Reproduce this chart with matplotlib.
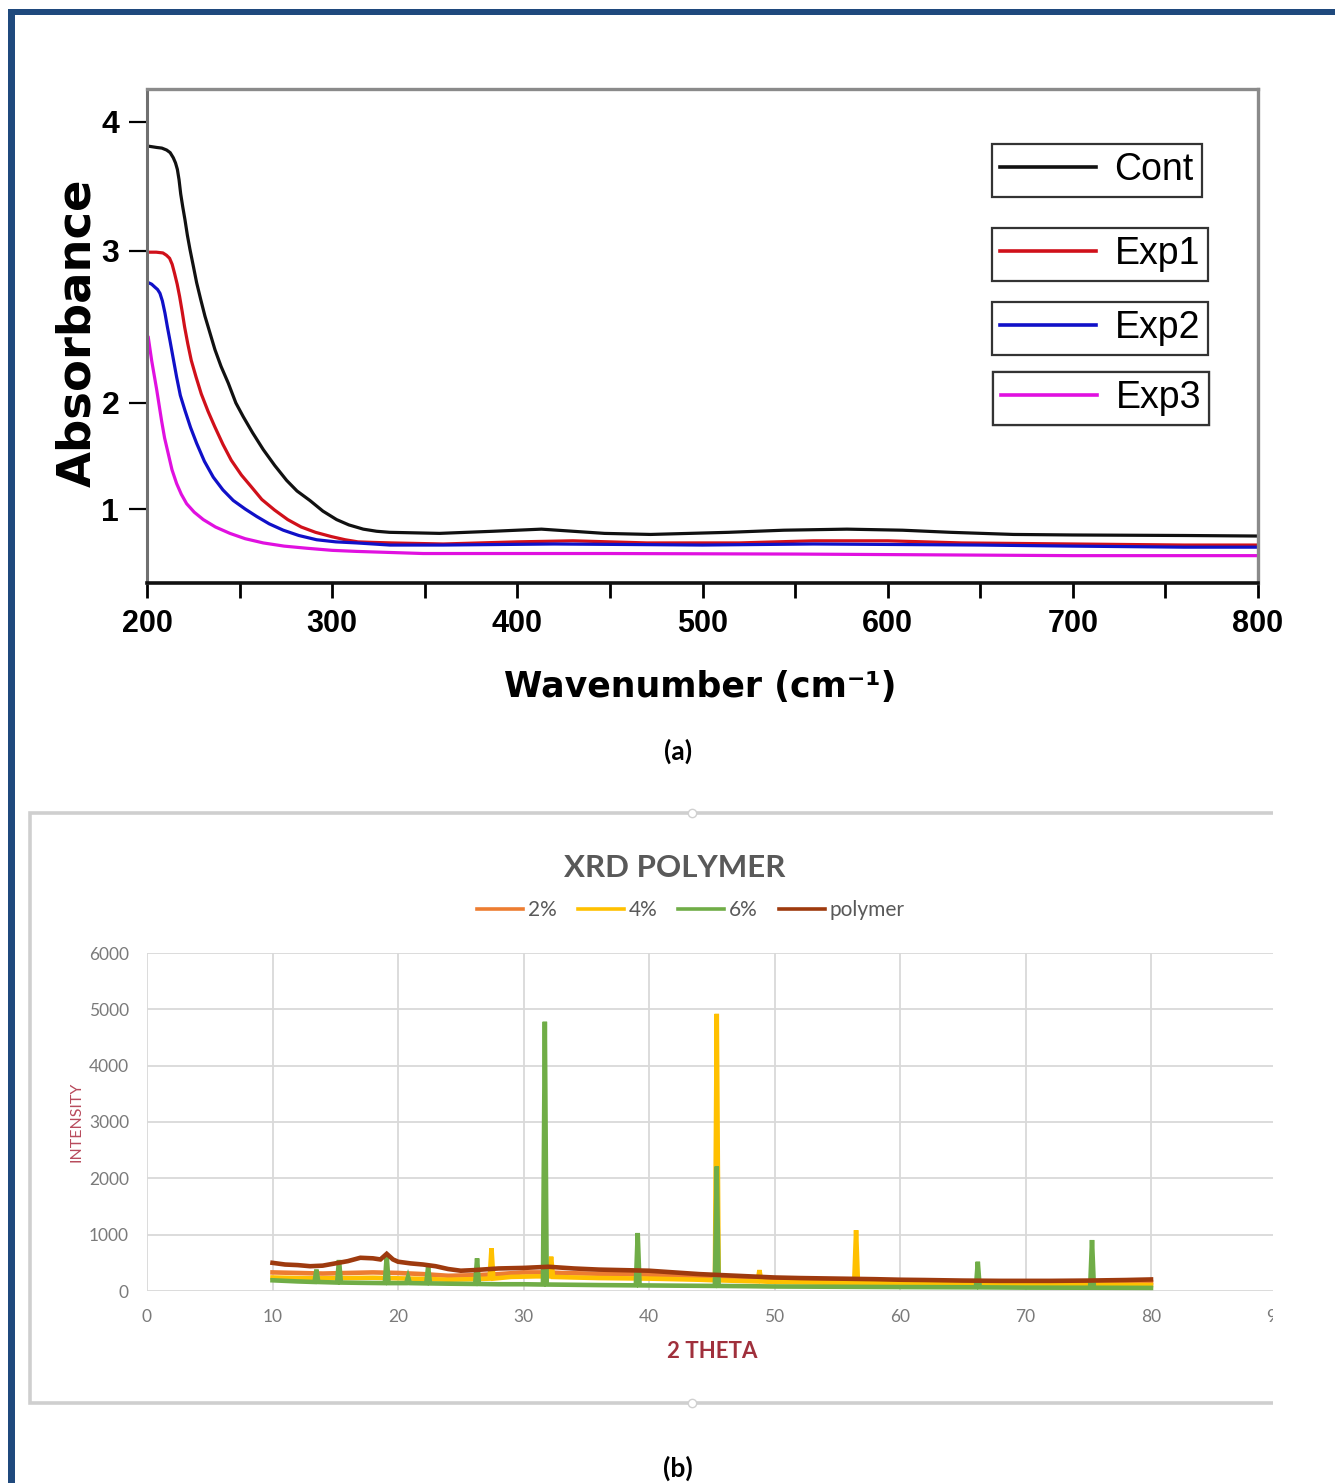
import numpy as np
import matplotlib
matplotlib.use("Agg")
import matplotlib.pyplot as plt
from matplotlib.patches import Rectangle
from matplotlib.lines import Line2D

# ---------------- (a) UV absorbance data ----------------
uv_labels = ["Cont", "Exp1", "Exp2", "Exp3"]
uv_colors = ["#111111", "#d0101a", "#1010c8", "#e010e0"]

cont_wn = [200.7, 205.2, 208, 210.6, 212.5, 214.2, 215.4, 216.4, 217.3, 218.2, 219.3,
           220.5, 221.8, 223.2, 225, 226.8, 229, 231.3, 234, 236.7, 240, 243.9, 248,
           252, 257, 262.8, 269, 275.4, 281, 288, 295, 302.4, 309, 316.8, 324, 331,
           358, 387, 413, 447, 472, 514, 544, 578, 608, 634, 668, 700, 761, 800]
cont_abs = [3.81, 3.80, 3.795, 3.78, 3.76, 3.72, 3.68, 3.63, 3.55, 3.44, 3.34,
            3.24, 3.12, 3.01, 2.90, 2.79, 2.68, 2.57, 2.46, 2.35, 2.24, 2.13, 2.00,
            1.87, 1.72, 1.56, 1.41, 1.27, 1.17, 1.08, 0.98, 0.90, 0.85, 0.81, 0.79, 0.78,
            0.77, 0.79, 0.81, 0.77, 0.76, 0.78, 0.80, 0.81, 0.80, 0.78, 0.76, 0.755, 0.75, 0.745]

exp1_wn = [200.7, 205, 208.6, 210.5, 212.2, 213.6, 214.9, 216.3, 217.6, 219, 220.3,
           222, 223.9, 226.5, 229.3, 233, 236.5, 241, 245.5, 251, 256.3, 262, 268.9,
           276, 283.3, 291, 299.5, 307, 313.9, 322, 331.9, 360, 400, 430, 470, 520,
           560, 600, 640, 700, 760, 800]
exp1_abs = [2.99, 2.99, 2.985, 2.97, 2.95, 2.91, 2.85, 2.78, 2.70, 2.60, 2.50,
            2.39, 2.28, 2.17, 2.06, 1.92, 1.78, 1.61, 1.46, 1.32, 1.21, 1.09, 0.99,
            0.90, 0.83, 0.78, 0.74, 0.71, 0.69, 0.685, 0.68, 0.67, 0.69, 0.70, 0.68, 0.68,
            0.70, 0.70, 0.68, 0.67, 0.66, 0.66]

exp2_wn = [200.7, 202.5, 204.3, 205.7, 207, 208.3, 209.7, 211, 212.4, 214.2, 216, 218,
           220.5, 223.5, 226.8, 231, 235.8, 241, 246.6, 253, 259.2, 266, 273.6, 282,
           291.6, 302, 313.2, 331.2, 360, 420, 500, 560, 650, 700, 760, 800]
exp2_abs = [2.79, 2.78, 2.76, 2.745, 2.72, 2.67, 2.59, 2.50, 2.41, 2.29, 2.17, 2.05,
            1.93, 1.77, 1.62, 1.45, 1.30, 1.18, 1.08, 1.00, 0.93, 0.86, 0.80, 0.75,
            0.71, 0.69, 0.68, 0.66, 0.66, 0.67, 0.66, 0.67, 0.66, 0.65, 0.64, 0.64]

exp3_wn = [200.7, 202.5, 205.2, 207.9, 209.5, 211.5, 213.5, 216.0, 218.5, 221.4, 225.5,
           230.4, 237, 244.8, 253, 262.8, 274, 286.2, 300, 313.2, 349.2, 450, 550,
           650, 700, 800]
exp3_abs = [2.43, 2.28, 2.09, 1.83, 1.67, 1.52, 1.37, 1.24, 1.14, 1.05, 0.97,
            0.90, 0.83, 0.77, 0.72, 0.68, 0.65, 0.63, 0.61, 0.60, 0.58, 0.58, 0.575,
            0.565, 0.56, 0.56]

uv_x_ticks = [200, 300, 400, 500, 600, 700, 800]
uv_y_ticks = [1, 2, 3, 4]

# ---------------- (b) XRD data ----------------
xrd_labels = ["2%", "4%", "6%", "polymer"]
xrd_colors = ["#ED7D31", "#FFC000", "#70AD47", "#9E3A0E"]

p2_theta = [10, 12, 14, 16, 18, 20, 22, 24, 26, 28, 30, 31.55, 31.7, 31.85, 33, 35,
            38, 40, 42, 44, 45.25, 45.4, 45.55, 47, 50, 55, 60, 65, 70, 75, 80]
p2_int = [330, 320, 310, 320, 330, 320, 300, 270, 280, 300, 330, 330, 520, 330, 320, 310,
          300, 290, 270, 260, 250, 450, 250, 230, 200, 180, 170, 160, 155, 150, 150]

p4_theta = [10, 12, 14, 16, 18, 20, 22, 24, 26, 27.3, 27.45, 27.6, 29, 31, 32.05, 32.2,
            32.35, 34, 36, 38, 40, 42, 44, 45.25, 45.4, 45.55, 47, 48.65, 48.8, 48.95,
            50, 53, 56.35, 56.5, 56.65, 60, 65, 70, 75, 80]
p4_int = [240, 230, 225, 230, 235, 225, 215, 200, 210, 220, 760, 220, 250, 260, 260, 610,
          250, 240, 230, 225, 220, 210, 200, 190, 4920, 190, 180, 170, 370, 170,
          160, 150, 140, 1080, 140, 135, 125, 115, 110, 105]

p6_theta = [10, 12, 13.35, 13.5, 13.65, 15.15, 15.3, 15.45, 17, 18.95, 19.1, 19.25,
            20.65, 20.8, 20.95, 22.25, 22.4, 22.55, 24, 26.15, 26.3, 26.45, 28, 30,
            31.55, 31.7, 31.85, 34, 36, 38.95, 39.1, 39.25, 42, 45.25, 45.4, 45.55,
            48, 50, 55, 60, 66.05, 66.2, 66.35, 70, 75.15, 75.3, 75.45, 80]
p6_int = [190, 170, 160, 380, 160, 150, 550, 150, 145, 140, 620, 140,
          140, 250, 140, 135, 430, 135, 130, 125, 580, 125, 120, 120,
          115, 4780, 115, 110, 105, 100, 1030, 100, 95, 90, 2210, 90,
          85, 80, 75, 70, 65, 520, 65, 60, 58, 905, 58, 55]

poly_theta = [10, 11, 12, 13, 14, 15, 16, 17, 18, 18.6, 19.1, 19.6, 20, 21, 22, 23, 24,
              25, 26, 28, 30, 32, 34, 36, 38, 40, 42, 44, 46, 48, 50, 52, 55, 58, 60,
              62, 65, 68, 70, 72, 75, 78, 80]
poly_int = [500, 470, 460, 440, 450, 490, 530, 590, 580, 560, 660, 560, 520, 490, 470, 440,
            390, 360, 370, 400, 410, 430, 400, 380, 370, 360, 330, 300, 280, 260, 240, 230,
            220, 210, 200, 195, 185, 180, 180, 180, 185, 195, 205]

xrd_x_ticks = list(range(0, 100, 10))
xrd_y_ticks = list(range(0, 7000, 1000))

# ---------------- figure helpers ----------------
W, H = 1335, 1483
fig = plt.figure(figsize=(W / 100, H / 100), dpi=100)
fig.patch.set_facecolor("white")


def fx(px):
    return px / W


def fy(py):
    return 1 - py / H


# page border
border = "#1F497D"
fig.add_artist(Rectangle((fx(8), 0), fx(7), fy(9), transform=fig.transFigure,
                         facecolor=border, edgecolor="none", zorder=20))
fig.add_artist(Rectangle((fx(8), fy(15)), 1 - fx(8), fy(9) - fy(15),
                         transform=fig.transFigure, facecolor=border,
                         edgecolor="none", zorder=20))

# ---------------- panel (a) ----------------
ax1_l, ax1_r, ax1_t, ax1_b = 147, 1258, 89, 583
ax1 = fig.add_axes([fx(ax1_l), fy(ax1_b), (ax1_r - ax1_l) / W, (ax1_b - ax1_t) / H])

# uneven absorbance gauge of the original plot frame
gauge_levels = [0, 1, 2, 3, 4, 5]
gauge_heights = [0, 106, 212, 364.3, 493.3, 622.3]
ax1.set_yscale("function", functions=(lambda v: np.interp(v, gauge_levels, gauge_heights),
                                      lambda u: np.interp(u, gauge_heights, gauge_levels)))

uv_series = [(cont_wn, cont_abs), (exp1_wn, exp1_abs), (exp2_wn, exp2_abs), (exp3_wn, exp3_abs)]
uv_lines = []
for (wn, ab), col in zip(uv_series, uv_colors):
    ln, = ax1.plot(wn, ab, color=col, lw=2.3, solid_joinstyle="round")
    uv_lines.append(ln)

ax1.set_xlim(200, 800)
ax1.set_ylim(0.302, 4.253)
ax1.set_xticks(uv_x_ticks, [str(t) for t in uv_x_ticks], fontsize=22,
               fontweight="bold", family="Liberation Sans")
ax1.set_xticks(np.arange(250, 800, 100), minor=True)
ax1.set_yticks(uv_y_ticks, [str(t) for t in uv_y_ticks], fontsize=23,
               fontweight="bold", family="Liberation Sans")
ax1.yaxis.set_minor_locator(matplotlib.ticker.NullLocator())
ax1.tick_params(axis="x", which="both", direction="out", length=11, width=2,
                colors="black", pad=8, top=False)
ax1.tick_params(axis="y", which="both", direction="out", length=13, width=1.6,
                colors="black", pad=7, right=False)
ax1.spines["bottom"].set_color("#111111")
ax1.spines["bottom"].set_linewidth(2.6)
ax1.spines["left"].set_color("#707070")
ax1.spines["left"].set_linewidth(2.2)
for s in ("top", "right"):
    ax1.spines[s].set_color("#8a8a8a")
    ax1.spines[s].set_linewidth(2.4)

ax1.set_xlabel("Wavenumber (cm\u207b\u00b9)", fontsize=25, fontweight="bold",
               family="DejaVu Sans")
ax1.xaxis.set_label_coords((700 - ax1_l) / (ax1_r - ax1_l), (ax1_b - 670) / (ax1_b - ax1_t))
ax1.set_ylabel("Absorbance", fontsize=33.5, fontweight="bold", family="DejaVu Sans")
ax1.yaxis.set_label_coords((100 - ax1_l) / (ax1_r - ax1_l), (ax1_b - 333) / (ax1_b - ax1_t))

# one framed legend box per series
legend_corners = [(992, 144), (992, 228), (992, 302), (993, 372)]
for ln, lab, (cx, cy) in zip(uv_lines, uv_labels, legend_corners):
    leg = ax1.legend([ln], [lab], loc="upper left",
                     bbox_to_anchor=((cx - ax1_l) / (ax1_r - ax1_l), (ax1_b - cy) / (ax1_b - ax1_t)),
                     borderaxespad=0, frameon=True, fancybox=False, edgecolor="#333333",
                     framealpha=1, prop=dict(family="Liberation Sans", size=27),
                     handlelength=2.55, handletextpad=0.5, borderpad=0.22)
    leg.get_frame().set_linewidth(1.6)
    for h in leg.legend_handles:
        h.set_linewidth(2.6)
    ax1.add_artist(leg)

fig.text(fx(678), fy(751), "(a)", ha="center", va="center", fontsize=19,
         fontweight="bold", family="Lato")

# ---------------- panel (b) ----------------
# chart area frame
fig.add_artist(Rectangle((fx(30), fy(1403)), fx(1290) - fx(30), fy(813) - fy(1403),
                         transform=fig.transFigure, fill=False, edgecolor="#cfcfcf",
                         lw=2.6, zorder=1))
for hy in (813, 1403):
    fig.add_artist(Line2D([fx(692)], [fy(hy)], marker="o", markersize=6,
                          markerfacecolor="white", markeredgecolor="#d0d0d0",
                          transform=fig.transFigure, zorder=3))

ax2_l, ax2_r, ax2_t, ax2_b = 147, 1276.5, 953, 1291
ax2 = fig.add_axes([fx(ax2_l), fy(ax2_b), (ax2_r - ax2_l) / W, (ax2_b - ax2_t) / H])
ax2.set_zorder(2)

xrd_series = [(p2_theta, p2_int), (p4_theta, p4_int), (p6_theta, p6_int), (poly_theta, poly_int)]
xrd_lines = []
for (th, it), col in zip(xrd_series, xrd_colors):
    ln, = ax2.plot(th, it, color=col, lw=3.3, solid_joinstyle="miter")
    xrd_lines.append(ln)

ax2.set_xlim(0, 90)
ax2.set_ylim(0, 6000)
ax2.set_xticks(xrd_x_ticks, [str(t) for t in xrd_x_ticks])
ax2.set_yticks(xrd_y_ticks, [str(t) for t in xrd_y_ticks])
ax2.tick_params(axis="both", length=0, labelsize=12.5, labelcolor="#7a7a7a")
ax2.tick_params(axis="x", pad=13)
ax2.tick_params(axis="y", pad=13)
for lab in ax2.get_xticklabels() + ax2.get_yticklabels():
    lab.set_family("Lato")
ax2.grid(True, color="#d9d9d9", lw=1.3)
ax2.set_axisbelow(True)
for s in ax2.spines.values():
    s.set_visible(False)

ax2.set_xlabel("2 THETA", fontsize=16, fontweight="bold", color="#a0303c", family="Lato")
ax2.xaxis.set_label_coords((712 - ax2_l) / (ax2_r - ax2_l), (ax2_b - 1341) / (ax2_b - ax2_t))
ax2.set_ylabel("INTENSITY", fontsize=11.5, color="#b84a5c", family="Lato")
ax2.yaxis.set_label_coords((84 - ax2_l) / (ax2_r - ax2_l), (ax2_b - 1122) / (ax2_b - ax2_t))

fig.text(fx(675), fy(868), "XRD POLYMER", ha="center", va="center", fontsize=22.5,
         fontweight="bold", color="#595959", family="Lato")
leg2 = ax2.legend(xrd_lines, xrd_labels, ncol=4, loc="center",
                  bbox_to_anchor=(fx(691), fy(910)), bbox_transform=fig.transFigure,
                  frameon=False, prop=dict(family="Lato", size=15), labelcolor="#595959",
                  handlelength=2.2, handletextpad=0.25, columnspacing=1.0)
for h in leg2.legend_handles:
    h.set_linewidth(2.6)

# right edge of the chart area is trimmed
fig.add_artist(Rectangle((fx(1273), fy(1415)), 1 - fx(1273), fy(800) - fy(1415),
                         transform=fig.transFigure, facecolor="white",
                         edgecolor="none", zorder=10))

fig.text(fx(678), fy(1468), "(b)", ha="center", va="center", fontsize=19,
         fontweight="bold", family="Lato")

fig.savefig("out.png", dpi=100, facecolor="white")
